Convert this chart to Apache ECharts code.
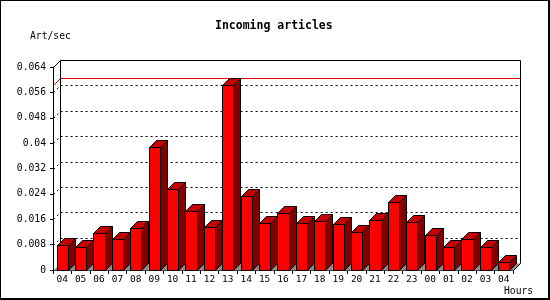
<!DOCTYPE html>
<html>
<head>
<meta charset="utf-8">
<script src="https://cdn.jsdelivr.net/npm/echarts@6/dist/echarts.min.js"></script>
<style>
html,body{margin:0;padding:0;background:#fff;}
#chart{width:550px;height:300px;}
</style>
</head>
<body>
<div id="chart"></div>
<script>
const hours = ['04','05','06','07','08','09','10','11','12','13','14','15','16','17','18','19','20','21','22','23','00','01','02','03','04'];
const artPerSec = [0.0078,0.0071,0.0116,0.0097,0.0131,0.0389,0.0254,0.0185,0.0135,0.0584,0.0232,0.0147,0.0181,0.0147,0.0153,0.0144,0.0119,0.0157,0.0213,0.0151,0.0110,0.0071,0.0097,0.0071,0.0025];
const yTicks = [0.008,0.016,0.024,0.032,0.040,0.048,0.056];
const yMin = 0, yMax = 0.064, yStep = 0.008;

const DX = 7, DY = 7;
const FONT = 'DejaVu Sans Mono';
const snap = v => Math.round(v) + 0.5;

const chart = echarts.init(document.getElementById('chart'), null, {renderer:'canvas'});

const maxVal = Math.max.apply(null, artPerSec);

const option = {
  animation: false,
  backgroundColor: '#fff',
  title: {
    text: 'Incoming articles',
    left: 215, top: 20, padding: 0,
    textStyle: {fontFamily: FONT, fontWeight: 'bold', fontSize: 11.5, color: '#000'}
  },
  grid: {left: 53, right: 37, top: 67, bottom: 30, containLabel: false},
  xAxis: {
    type: 'category',
    data: hours,
    boundaryGap: true,
    axisLine: {show: true, lineStyle: {color: '#000', width: 1}},
    axisTick: {show: true, length: 4, inside: false, alignWithLabel: false, lineStyle: {color: '#000'}},
    axisLabel: {show: true, interval: 0, margin: 5, fontFamily: FONT, fontSize: 9.5, color: '#000'},
    splitLine: {show: false}
  },
  yAxis: {
    type: 'value',
    min: yMin, max: yMax, interval: yStep,
    axisLine: {show: true, lineStyle: {color: '#000', width: 1}},
    axisTick: {show: true, length: 3, lineStyle: {color: '#000'}},
    axisLabel: {show: true, margin: 7, fontFamily: FONT, fontSize: 9.7, color: '#000',
      formatter: v => String(+(+v).toFixed(3))},
    splitLine: {show: false}
  },
  graphic: [
    {type: 'text', left: 30, top: 31, style: {text: 'Art/sec', font: '9.7px "DejaVu Sans Mono"', fill: '#000'}},
    {type: 'text', left: 504, top: 286, style: {text: 'Hours', font: '9.7px "DejaVu Sans Mono"', fill: '#000'}},
    {type: 'line', shape: {x1: 0.5, y1: 0, x2: 0.5, y2: 300}, style: {stroke: '#000', lineWidth: 1}},
    {type: 'line', shape: {x1: 0, y1: 0.5, x2: 550, y2: 0.5}, style: {stroke: '#000', lineWidth: 1}},
    {type: 'rect', shape: {x: 548, y: 0, width: 2, height: 300}, style: {fill: '#000'}},
    {type: 'rect', shape: {x: 0, y: 298, width: 550, height: 2}, style: {fill: '#000'}}
  ],
  series: [
    {
      name: 'grid',
      type: 'custom',
      clip: false, silent: true, z: 1,
      data: yTicks.map(v => [0, v]),
      encode: {x: 0, y: 1},
      renderItem: function (params, api) {
        const cs = params.coordSys;
        const yf = snap(api.coord([0, api.value(1)])[1]);
        const x0 = snap(cs.x);
        return {
          type: 'polyline',
          shape: {points: [[x0, yf], [x0 + DX, yf - DY], [snap(cs.x + cs.width) + DX, yf - DY]]},
          style: {stroke: '#000', lineWidth: 1, lineDash: [2, 3], fill: null}
        };
      }
    },
    {
      name: 'max',
      type: 'custom',
      clip: false, silent: true, z: 2,
      data: [[0, maxVal]],
      encode: {x: 0, y: 1},
      renderItem: function (params, api) {
        const cs = params.coordSys;
        const yf = snap(api.coord([0, api.value(1)])[1]);
        const x0 = snap(cs.x);
        return {
          type: 'polyline',
          shape: {points: [[x0, yf], [x0 + DX, yf - DY], [snap(cs.x + cs.width) + DX, yf - DY]]},
          style: {stroke: '#e00000', lineWidth: 1, fill: null}
        };
      }
    },
    {
      name: 'frame',
      type: 'custom',
      clip: false, silent: true, z: 3,
      data: [[0, yMax]],
      encode: {x: 0, y: 1},
      renderItem: function (params, api) {
        const cs = params.coordSys;
        const x0 = snap(cs.x), x1 = snap(cs.x + cs.width);
        const yT = snap(api.coord([0, api.value(1)])[1]);
        const yB = snap(api.coord([0, 0])[1]);
        return {
          type: 'group',
          children: [
            {type: 'polygon', shape: {points: [[x0, yB], [x0 + DX, yB - DY], [x1 + DX, yB - DY], [x1, yB]]},
              style: {fill: '#8c8c8c', stroke: null}},
            {type: 'polyline', shape: {points: [[x0 + DX, yB - DY], [x0 + DX, yT - DY], [x1 + DX, yT - DY], [x1 + DX, yB - DY], [x1, yB]]},
              style: {stroke: '#000', lineWidth: 1, fill: null}},
            {type: 'line', shape: {x1: x0, y1: yT, x2: x0 + DX, y2: yT - DY},
              style: {stroke: '#000', lineWidth: 1}}
          ]
        };
      }
    },
    {
      name: 'Incoming articles',
      type: 'custom',
      clip: false, z: 4,
      data: artPerSec.map((v, i) => [i, v]),
      encode: {x: 0, y: 1},
      renderItem: function (params, api) {
        const i = api.value(0), v = api.value(1);
        const top = api.coord([i, v]);
        const bot = api.coord([i, 0]);
        const w = api.size([1, 0])[0] * 0.615;
        const xl = snap(top[0] - w / 2), xr = snap(top[0] + w / 2);
        const yT = snap(top[1]), yB = snap(bot[1]);
        const st = {stroke: '#000', lineWidth: 1};
        return {
          type: 'group',
          children: [
            {type: 'polygon', shape: {points: [[xr, yT], [xr + DX, yT - DY], [xr + DX, yB - DY], [xr, yB]]},
              style: Object.assign({fill: '#800000'}, st)},
            {type: 'polygon', shape: {points: [[xl, yT], [xl + DX, yT - DY], [xr + DX, yT - DY], [xr, yT]]},
              style: Object.assign({fill: '#c40000'}, st)},
            {type: 'rect', shape: {x: xl, y: yT, width: xr - xl, height: yB - yT},
              style: Object.assign({fill: '#ff0000'}, st)}
          ]
        };
      }
    }
  ]
};
chart.setOption(option);
</script>
</body>
</html>
